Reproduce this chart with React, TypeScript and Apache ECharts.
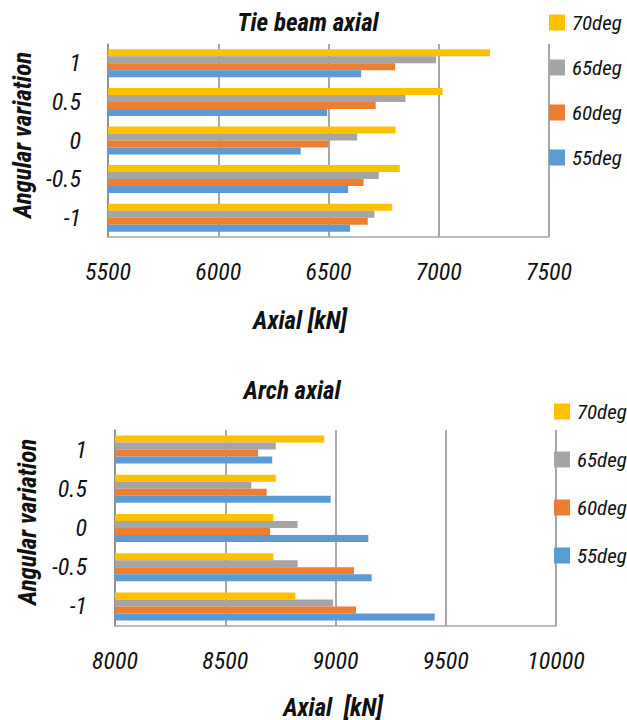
import React, { useEffect, useRef } from "react";
import * as echarts from "echarts";

const categories = ["-1", "-0.5", "0", "0.5", "1"];
const seriesNames = ["70deg", "65deg", "60deg", "55deg"];
const colors = ["#FFC000", "#A5A5A5", "#ED7D31", "#5B9BD5"];

// Tie beam axial [kN], categories -1 .. 1
const tie55 = [6598, 6589, 6374, 6494, 6648];
const tie60 = [6678, 6659, 6500, 6714, 6802];
const tie65 = [6709, 6728, 6630, 6849, 6988];
const tie70 = [6789, 6823, 6804, 7018, 7233];

// Arch axial [kN]
const arch55 = [9450, 9164, 9149, 8978, 8713];
const arch60 = [9093, 9084, 8703, 8688, 8649];
const arch65 = [8989, 8828, 8828, 8618, 8729];
const arch70 = [8818, 8718, 8718, 8729, 8949];

const tieTicks = { min: 5500, max: 7500, interval: 500 };
const archTicks = { min: 8000, max: 10000, interval: 500 };

const FONT = "'Roboto Condensed', 'Open Sans Condensed', sans-serif";

export default function App() {
  const ref = useRef<HTMLDivElement>(null);
  useEffect(() => {
    if (!ref.current) return;
    const chart = echarts.init(ref.current, null, { renderer: "svg" });
    const tieData = [tie70, tie65, tie60, tie55];
    const archData = [arch70, arch65, arch60, arch55];
    const axisLabel = {
      fontFamily: FONT,
      fontStyle: "italic",
      fontSize: 24,
      color: "#111",
    };
    const xAxisCommon = (t: any, gridIndex: number) => ({
      type: "value",
      gridIndex,
      min: t.min,
      max: t.max,
      interval: t.interval,
      axisLine: { show: true, lineStyle: { color: "#a6a6a6", width: 1.5 } },
      axisTick: { show: false },
      splitLine: { show: true, lineStyle: { color: "#8a8a8a", width: 1.5 } },
      axisLabel: { ...axisLabel, margin: 23, formatter: (v: number) => String(v) },
    });
    const yAxisCommon = (gridIndex: number, margin: number) => ({
      type: "category",
      gridIndex,
      data: categories,
      axisLine: { show: true, lineStyle: { color: "#8a8a8a", width: 1.5 } },
      axisTick: { show: false },
      axisLabel: { ...axisLabel, margin },
    });
    const mkSeries = (data: number[][], idx: number) =>
      data.map((d, i) => ({
        type: "bar",
        name: seriesNames[i],
        xAxisIndex: idx,
        yAxisIndex: idx,
        data: d,
        barWidth: 7,
        barGap: "0%",
        itemStyle: { color: colors[i] },
      }));
    const legendCommon = {
      orient: "vertical",
      icon: "rect",
      itemWidth: 16,
      itemHeight: 16,
      data: ["70deg", "65deg", "60deg", "55deg"],
      textStyle: { ...axisLabel, fontSize: 21, padding: [0, 0, 0, 2] },
    };
    const textEl = (text: string, x: number, y: number, rotation = 0) => ({
      type: "text",
      x,
      y,
      rotation,
      style: {
        text,
        fontFamily: FONT,
        fontStyle: "italic",
        fontWeight: "bold",
        fontSize: 25,
        fill: "#111",
        align: "center",
        verticalAlign: "middle",
      },
    });
    chart.setOption({
      animation: false,
      grid: [
        { left: 108, top: 44, width: 441, height: 193 },
        { left: 115, top: 430, width: 441, height: 196 },
      ],
      xAxis: [xAxisCommon(tieTicks, 0), xAxisCommon(archTicks, 1)],
      yAxis: [yAxisCommon(0, 27), yAxisCommon(1, 28)],
      legend: [
        { ...legendCommon, left: 544, top: 7, itemGap: 24 },
        { ...legendCommon, left: 549, top: 396, itemGap: 27 },
      ],
      series: [...mkSeries(tieData, 0), ...mkSeries(archData, 1)],
      graphic: [
        textEl("Tie beam axial", 308, 22),
        textEl("Angular variation", 22, 135, Math.PI / 2),
        textEl("Axial [kN]", 300, 320),
        textEl("Arch axial", 292, 390),
        textEl("Angular variation", 27, 522, Math.PI / 2),
        textEl("Axial  [kN]", 333, 707),
      ],
    });
    return () => chart.dispose();
  }, []);
  return (
    <div
      ref={ref}
      style={{ position: "absolute", left: 0, top: 0, width: 627, height: 720, background: "#fff" }}
    />
  );
}
